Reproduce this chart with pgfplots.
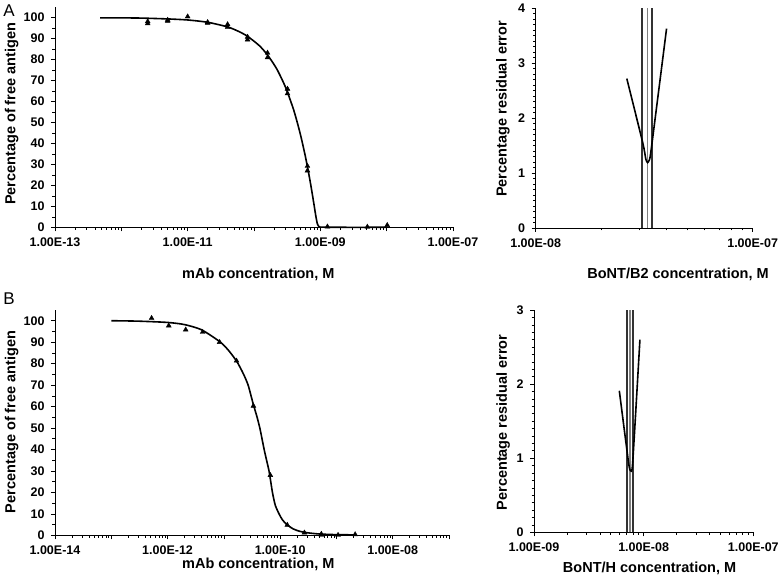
\documentclass[border=0pt]{standalone}
\usepackage{fontspec}
\setmainfont{Liberation Sans}
\usepackage{pgfplots}
\pgfplotsset{compat=1.18}

\pgfplotsset{
  panel/.style={
    scale only axis,
    axis lines*=left,
    tick align=outside,
    major tick length=4pt,
    minor tick length=2.5pt,
    every tick/.style={black, line width=0.6pt},
    axis line style={black, line width=0.8pt},
    /pgf/number format/assume math mode=true,
    xticklabel style={font=\bfseries\fontsize{12.5}{14}\selectfont, yshift=-3pt},
    yticklabel style={font=\bfseries\fontsize{12.5}{14}\selectfont, xshift=-3pt},
    label style={font=\bfseries\fontsize{14.5}{17}\selectfont},
    xlabel style={anchor=center},
    ylabel style={anchor=center},
    clip=false,
  },
  curve/.style={black, line width=1.6pt, smooth, tension=0.4, no marks},
  pts/.style={only marks, mark=triangle*, mark size=2.8pt, black},
  vdark/.style={draw=black!80, line width=1.8pt, no marks},
  vlight/.style={draw=black!50, line width=1.5pt, no marks},
}

\begin{document}
\begin{tikzpicture}
\useasboundingbox (0,0) rectangle (780pt,580pt);

% ---- A, titration ----
\begin{axis}[panel,
  at={(55pt,352.7pt)}, anchor=south west,
  width=398pt, height=220.1pt,
  xmode=log, xmin=1e-13, xmax=1e-7,
  ymin=0, ymax=105,
  xtick={1e-13,1e-12,1e-11,1e-10,1e-9,1e-8,1e-7},
  xticklabels={1.00E-13,,1.00E-11,,1.00E-09,,1.00E-07},
  minor xtick={2e-13,3e-13,4e-13,5e-13,6e-13,7e-13,8e-13,9e-13,
    2e-12,3e-12,4e-12,5e-12,6e-12,7e-12,8e-12,9e-12,
    2e-11,3e-11,4e-11,5e-11,6e-11,7e-11,8e-11,9e-11,
    2e-10,3e-10,4e-10,5e-10,6e-10,7e-10,8e-10,9e-10,
    2e-9,3e-9,4e-9,5e-9,6e-9,7e-9,8e-9,9e-9,
    2e-8,3e-8,4e-8,5e-8,6e-8,7e-8,8e-8,9e-8},
  ytick={0,10,...,100}, minor y tick num=1,
  xlabel={mAb concentration, M},
  ylabel={Percentage of free antigen},
  xlabel style={at={(axis description cs:0.511,-0.212)}},
  ylabel style={at={(axis description cs:-0.109,0.515)}},
]
\addplot[curve] coordinates {
  (4.8e-13,99.9) (1e-12,99.9) (2e-12,99.8) (5e-12,99.4) (1e-11,98.9)
  (2e-11,97.8) (4e-11,95.6) (6e-11,93.3) (8e-11,91.1) (1.2e-10,86.7)
  (1.6e-10,82.2) (2.2e-10,75.6) (3e-10,66.7) (4e-10,55.6) (5e-10,44.4)
  (6e-10,33.3) (7e-10,22.2) (8e-10,11.2) (8.5e-10,5.9) (9e-10,1.8)
  (9.5e-10,0.4) (1e-9,0.1) (2e-9,0) (1e-8,0)
};
\addplot[pts] coordinates {
  (2.5e-12,97.2) (2.5e-12,98.2) (5e-12,98.4) (5e-12,98.9) (1e-11,100.5)
  (2e-11,97.5) (2e-11,97.8) (4e-11,96.8) (4e-11,95.5) (8e-11,90.8)
  (8e-11,89.5) (1.6e-10,83.2) (1.6e-10,81.0) (3.2e-10,66.0) (3.2e-10,63.8)
  (6.4e-10,29.2) (6.4e-10,27.0) (1.28e-9,0.3) (5.12e-9,0.2) (1.02e-8,1.0)
};
\end{axis}

% ---- A, residual error ----
\begin{axis}[panel,
  at={(535.7pt,352pt)}, anchor=south west,
  width=217pt, height=219.7pt,
  xmode=log, xmin=1e-8, xmax=1e-7,
  ymin=0, ymax=4,
  xtick={1e-8,1e-7},
  xticklabels={1.00E-08,1.00E-07},
  minor xtick={2e-8,3e-8,4e-8,5e-8,6e-8,7e-8,8e-8,9e-8},
  ytick={0,1,2,3,4}, minor y tick num=9,
  xlabel={BoNT/B2 concentration, M},
  ylabel={Percentage residual error},
  xlabel style={at={(axis description cs:0.656,-0.209)}},
  ylabel style={at={(axis description cs:-0.151,0.542)}},
]
\addplot[vdark] coordinates {(3.10e-8,0) (3.10e-8,4)};
\addplot[vlight] coordinates {(3.28e-8,0) (3.28e-8,4)};
\addplot[vdark] coordinates {(3.44e-8,0) (3.44e-8,4)};
\addplot[black, line width=1.6pt, smooth, tension=0.3] coordinates {
  (2.63e-8,2.72) (3.12e-8,1.54) (3.22e-8,1.25) (3.28e-8,1.19)
  (3.35e-8,1.25) (3.42e-8,1.48) (4.01e-8,3.63)
};
\end{axis}

% ---- B, titration ----
\begin{axis}[panel,
  at={(55pt,44.7pt)}, anchor=south west,
  width=394pt, height=225.3pt,
  xmode=log, xmin=1e-14, xmax=1e-7,
  ymin=0, ymax=105,
  xtick={1e-14,1e-13,1e-12,1e-11,1e-10,1e-9,1e-8,1e-7},
  xticklabels={1.00E-14,,1.00E-12,,1.00E-10,,1.00E-08,},
  minor xtick={2e-14,3e-14,4e-14,5e-14,6e-14,7e-14,8e-14,9e-14,
    2e-13,3e-13,4e-13,5e-13,6e-13,7e-13,8e-13,9e-13,
    2e-12,3e-12,4e-12,5e-12,6e-12,7e-12,8e-12,9e-12,
    2e-11,3e-11,4e-11,5e-11,6e-11,7e-11,8e-11,9e-11,
    2e-10,3e-10,4e-10,5e-10,6e-10,7e-10,8e-10,9e-10,
    2e-9,3e-9,4e-9,5e-9,6e-9,7e-9,8e-9,9e-9,
    2e-8,3e-8,4e-8,5e-8,6e-8,7e-8,8e-8,9e-8},
  ytick={0,10,...,100}, minor y tick num=1,
  xlabel={mAb concentration, M},
  ylabel={Percentage of free antigen},
  xlabel style={at={(axis description cs:0.516,-0.127)}},
  ylabel style={at={(axis description cs:-0.11,0.503)}},
]
\addplot[curve] coordinates {
  (1e-13,100) (3e-13,99.8) (1e-12,99.2) (2e-12,98.2) (4e-12,95.8)
  (8.4e-12,90.3) (1.2e-11,86.3) (1.7e-11,81) (2.2e-11,75.5) (2.7e-11,70)
  (3.3e-11,61.5) (3.9e-11,55) (4.4e-11,49.5) (5.2e-11,40) (5.8e-11,34.5)
  (6.4e-11,29.5) (7.3e-11,20) (8.2e-11,14) (9.6e-11,9.9) (1.1e-10,7.2)
  (1.3e-10,5.1) (1.7e-10,3) (2.2e-10,1.9) (3e-10,1.2) (5e-10,0.6)
  (1e-9,0.3) (2.2e-9,0.2)
};
\addplot[pts] coordinates {
  (5.2e-13,101.2) (1.05e-12,97.7) (2.1e-12,95.8) (4.2e-12,94.7)
  (8.4e-12,90.0) (1.68e-11,81.3) (3.35e-11,60.3) (6.7e-11,28.0)
  (1.34e-10,4.8) (2.7e-10,1.2) (5.4e-10,0.6) (5.4e-10,0.2)
  (1.07e-9,0.1) (2.15e-9,0.4)
};
\end{axis}

% ---- B, residual error ----
\begin{axis}[panel,
  at={(534pt,47.7pt)}, anchor=south west,
  width=219.3pt, height=222.3pt,
  xmode=log, xmin=1e-9, xmax=1e-7,
  ymin=0, ymax=3,
  xtick={1e-9,1e-8,1e-7},
  xticklabels={1.00E-09,1.00E-08,1.00E-07},
  minor xtick={2e-9,3e-9,4e-9,5e-9,6e-9,7e-9,8e-9,9e-9,
    2e-8,3e-8,4e-8,5e-8,6e-8,7e-8,8e-8,9e-8},
  ytick={0,1,2,3}, minor y tick num=9,
  xlabel={BoNT/H concentration, M},
  ylabel={Percentage residual error},
  xlabel style={at={(axis description cs:0.527,-0.161)}},
  ylabel style={at={(axis description cs:-0.141,0.494)}},
]
\addplot[vdark] coordinates {(7.05e-9,0) (7.05e-9,3)};
\addplot[vlight] coordinates {(7.50e-9,0) (7.50e-9,3)};
\addplot[vdark] coordinates {(8.04e-9,0) (8.04e-9,3)};
\addplot[black, line width=1.6pt, smooth, tension=0.3] coordinates {
  (6.0e-9,1.91) (7.3e-9,0.93) (7.6e-9,0.83) (7.94e-9,0.93) (9.25e-9,2.60)
};
\end{axis}

\node[font=\fontsize{17}{17}\selectfont] at (9pt,569pt) {A};
\node[font=\fontsize{17}{17}\selectfont] at (9pt,281pt) {B};
\end{tikzpicture}
\end{document}
